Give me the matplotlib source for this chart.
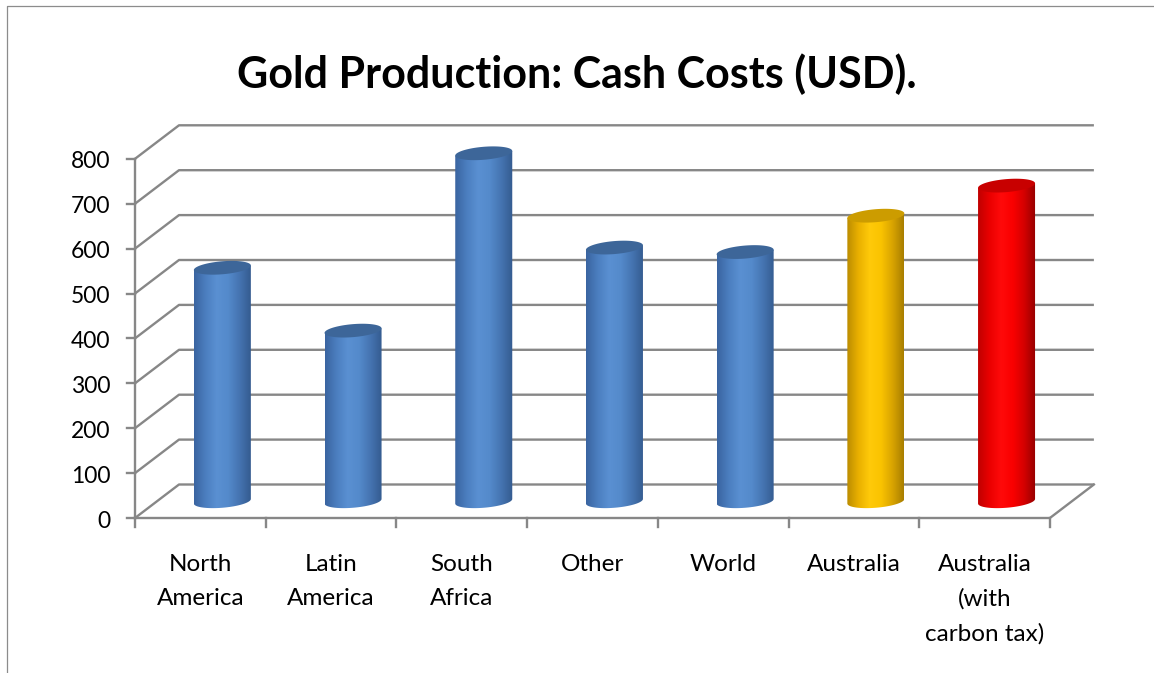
import matplotlib.pyplot as plt
import numpy as np
from matplotlib.colors import LinearSegmentedColormap
from matplotlib.lines import Line2D
from matplotlib.patches import Polygon

plt.rcParams["font.family"] = ["Lato", "DejaVu Sans"]

TITLE = "Gold Production: Cash Costs (USD)."
CATEGORIES = [
    "North\nAmerica",
    "Latin\nAmerica",
    "South\nAfrica",
    "Other",
    "World",
    "Australia",
    "Australia\n(with\ncarbon tax)",
]
CASH_COSTS = [520, 380, 775, 565, 555, 636, 703]
Y_TICKS = list(range(0, 801, 100))

# styling
SHADES = {
    "blue": (["#3a64a0", "#4b7ebf", "#5a90d2", "#548acb", "#4574b1", "#345b8f"], "#3d6699"),
    "gold": (["#bb8c00", "#e9b000", "#ffca0a", "#fac300", "#d9a400", "#a87e00"], "#cc9c00"),
    "red": (["#c00000", "#ea0000", "#ff0a0a", "#fa0000", "#d40000", "#940000"], "#c80000"),
}
BAR_SHADES = ["blue", "blue", "blue", "blue", "blue", "gold", "red"]
GRID = "#878787"

W_PX, H_PX = 1154, 673
X0_PX, Y0_PX = 135, 518          # pixel of the front origin
PX_CAT, PX_VAL = 130.7, 0.449    # pixels per category / per value unit
DX, DY = 44 / PX_CAT, 33.5 / PX_VAL   # depth of the 3d box
BAR_W = 57 / PX_CAT
ELL_H = 6.5 / PX_VAL
SHEAR = 0.08 * PX_CAT / PX_VAL


def draw_box(ax, n):
    for v in Y_TICKS:
        ax.plot([0, DX, n + DX], [v, v + DY, v + DY], color=GRID, lw=1.7,
                solid_capstyle="butt", zorder=1)
        ax.plot([-8 / PX_CAT, 0], [v, v], color=GRID, lw=1.7, zorder=1)
        ax.text(-0.19, v - 3 / PX_VAL, str(v), ha="right", va="center", fontsize=16.5)
    ax.plot([0, 0], [0, Y_TICKS[-1]], color=GRID, lw=1.7, zorder=1)
    ax.plot([0, n, n + DX], [0, 0, DY], color=GRID, lw=1.7, zorder=1)
    for i in range(n + 1):
        ax.plot([i, i], [0, -9 / PX_VAL], color=GRID, lw=1.7, zorder=1)


def draw_cylinder(ax, cx, value, shade):
    colors, top_color = SHADES[shade]
    cmap = LinearSegmentedColormap.from_list(shade, colors)
    a = BAR_W / 2
    base = DY / 2
    top = value + DY / 2

    t = np.linspace(np.pi, 2 * np.pi, 60)
    ex = a * np.cos(t)
    ey = ELL_H * np.sin(t) + SHEAR * ex
    body = [(cx - a, top - SHEAR * a)]
    body += list(zip(cx + ex, base + ey))
    body += [(cx + a, top + SHEAR * a)]
    patch = Polygon(body, closed=True, facecolor="none", edgecolor="none")
    ax.add_patch(patch)

    grad = np.linspace(0, 1, 256).reshape(1, -1)
    im = ax.imshow(grad, extent=[cx - a, cx + a, base - 2 * ELL_H, top + 2 * ELL_H],
                   aspect="auto", cmap=cmap, zorder=3, interpolation="bilinear")
    im.set_clip_path(patch)

    t = np.linspace(0, 2 * np.pi, 120)
    ex = a * np.cos(t)
    ey = ELL_H * np.sin(t) + SHEAR * ex
    ax.add_patch(Polygon(list(zip(cx + ex, top + ey)), closed=True,
                         facecolor=top_color, edgecolor="none", zorder=4))


def main():
    fig = plt.figure(figsize=(W_PX / 100, H_PX / 100), dpi=100)
    ax = fig.add_axes([0, 0, 1, 1])
    ax.axis("off")

    n = len(CATEGORIES)
    draw_box(ax, n)

    for i, (value, shade) in enumerate(zip(CASH_COSTS, BAR_SHADES)):
        draw_cylinder(ax, i + 0.5 + DX / 2, value, shade)

    for i, label in enumerate(CATEGORIES):
        ax.text(i + 0.5, -(554 - Y0_PX) / PX_VAL, label, ha="center", va="top",
                fontsize=17.5, linespacing=1.75)

    ax.set_xlim(-X0_PX / PX_CAT, (W_PX - X0_PX) / PX_CAT)
    ax.set_ylim((Y0_PX - H_PX) / PX_VAL, Y0_PX / PX_VAL)

    fig.text(0.5, 1 - 74 / H_PX, TITLE, ha="center", va="center",
             fontsize=31, fontweight="bold")

    fig.add_artist(Line2D([7 / W_PX, 7 / W_PX, 1], [0, 1 - 6 / H_PX, 1 - 6 / H_PX],
                          transform=fig.transFigure, color="#8c8c8c", lw=0.9))

    fig.savefig("out.png", dpi=100)
    plt.close(fig)


if __name__ == "__main__":
    main()
